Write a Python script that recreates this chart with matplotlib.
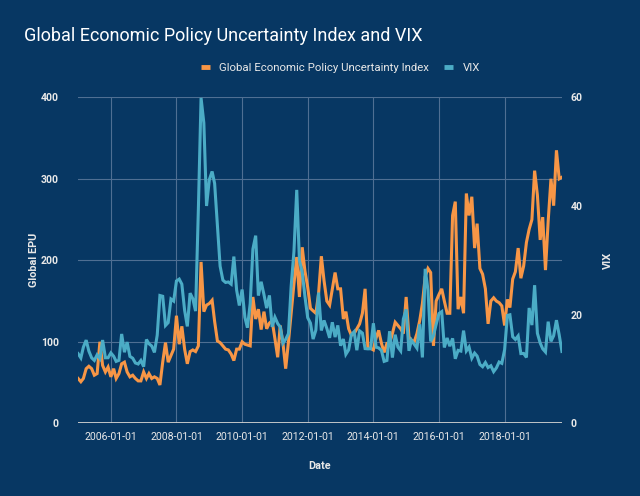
import matplotlib
matplotlib.use("Agg")
import matplotlib.pyplot as plt
import matplotlib.dates as mdates
import pandas as pd

# monthly data, Jan 2005 - Oct 2019
dates = pd.date_range("2005-01-01", periods=178, freq="MS")

epu = [55, 51, 55, 67, 70, 67, 59, 61, 100, 71, 63, 69,
       57, 67, 55, 61, 73, 75, 63, 57, 59, 55, 52, 52,
       63, 55, 61, 55, 57, 55, 47, 75, 99, 75, 83, 91,
       132, 97, 119, 91, 73, 88, 90, 88, 95, 198, 137, 145,
       147, 151, 125, 101, 99, 95, 91, 90, 85, 77, 91, 91,
       100, 97, 96, 95, 155, 128, 140, 115, 137, 116, 123, 126,
       104, 81, 120, 98, 67, 100, 135, 171, 204, 155, 216, 187,
       167, 141, 138, 135, 159, 205, 175, 150, 145, 165, 185, 165,
       165, 128, 137, 116, 108, 110, 116, 122, 135, 165, 92, 92,
       90, 105, 114, 98, 87, 98, 98, 110, 124, 120, 116, 110,
       155, 106, 102, 100, 110, 126, 147, 180, 190, 185, 95, 150,
       158, 165, 150, 135, 135, 255, 272, 140, 155, 135, 282, 255,
       278, 215, 245, 190, 183, 165, 122, 150, 154, 150, 148, 144,
       120, 152, 142, 177, 186, 215, 178, 193, 222, 238, 250, 310,
       280, 225, 253, 188, 248, 300, 267, 335, 300, 302]

vix = [12.82, 12.03, 14.02, 15.31, 13.29, 12.04, 11.57, 12.60, 11.92, 15.32, 12.06, 12.07,
       12.95, 12.34, 11.39, 11.59, 16.44, 13.08, 14.95, 12.31, 11.98, 11.10, 10.91, 11.56,
       10.42, 15.42, 14.64, 14.22, 13.05, 16.23, 23.52, 23.38, 18.00, 18.53, 22.87, 22.50,
       26.20, 26.54, 25.61, 20.79, 17.83, 23.95, 22.94, 20.65, 39.39, 59.89, 55.28, 40.00,
       44.84, 46.35, 44.14, 36.50, 28.92, 26.35, 25.92, 26.01, 25.61, 30.69, 24.51, 21.68,
       24.62, 19.50, 17.59, 22.05, 32.07, 34.54, 23.50, 26.05, 23.70, 21.20, 23.54, 17.75,
       19.53, 18.35, 17.74, 14.75, 15.45, 16.52, 25.25, 31.62, 42.96, 29.96, 27.80, 23.40,
       19.44, 18.43, 15.50, 17.15, 24.06, 17.08, 18.93, 17.47, 15.73, 18.60, 15.87, 18.02,
       14.28, 15.51, 12.70, 13.52, 16.30, 16.86, 13.45, 17.01, 16.60, 13.75, 13.70, 13.72,
       18.41, 14.00, 13.88, 13.41, 11.40, 11.57, 16.95, 12.09, 16.31, 14.03, 13.33, 19.20,
       20.97, 13.34, 15.29, 14.55, 13.84, 18.23, 12.12, 28.43, 24.50, 15.07, 16.13, 18.21,
       20.20, 20.55, 13.95, 15.70, 14.19, 15.63, 11.87, 13.42, 13.29, 17.06, 13.33, 14.04,
       11.99, 12.92, 12.37, 10.82, 10.41, 11.18, 10.26, 10.59, 9.51, 10.18, 11.28, 11.04,
       13.54, 19.85, 19.97, 15.93, 15.43, 16.09, 12.83, 12.86, 12.12, 21.23, 18.07, 25.42,
       16.57, 14.78, 13.71, 13.12, 18.71, 15.08, 16.12, 18.98, 16.24, 13.22]

tick_dates = pd.to_datetime(["2006-01-01", "2008-01-01", "2010-01-01", "2012-01-01",
                             "2014-01-01", "2016-01-01", "2018-01-01"])

bg = "#073763"
orange = "#f79646"
teal = "#4bacc6"
txt = "#e8e8e8"

plt.rcParams["font.family"] = ["Roboto", "DejaVu Sans"]

fig = plt.figure(figsize=(6.4, 4.96), dpi=100, facecolor=bg)
ax = fig.add_axes([0.122, 0.1466, 0.756, 0.6572])
ax.set_facecolor(bg)
ax2 = ax.twinx()
ax2.patch.set_visible(False)

l1, = ax.plot(dates, epu, color=orange, lw=2.2, solid_joinstyle="miter",
              label="Global Economic Policy Uncertainty Index")
l2, = ax2.plot(dates, vix, color=teal, lw=2.2, solid_joinstyle="miter", label="VIX")

ax.set_xlim(dates[0], dates[-1])
ax.set_ylim(0, 400)
ax2.set_ylim(0, 60)
ax.set_yticks([0, 100, 200, 300, 400])
ax2.set_yticks([0, 20, 40, 60])
ax.set_xticks(tick_dates)
ax.xaxis.set_major_formatter(mdates.DateFormatter("%Y-%m-%d"))

ax.grid(True, color="#4f6f93", lw=0.8)
ax.set_axisbelow(True)
ax.axhline(0, color="#d0d0d0", lw=1.3, zorder=3)

for a in (ax, ax2):
    for s in a.spines.values():
        s.set_visible(False)
    a.tick_params(length=0, colors=txt)

ax.tick_params(axis="x", labelsize=7.6, pad=6)
for lab in ax.get_yticklabels() + ax2.get_yticklabels():
    lab.set_fontsize(7.6)
    lab.set_fontweight("bold")
ax.tick_params(axis="y", pad=14)
ax2.tick_params(axis="y", pad=6)

ax.set_xlabel("Date", color=txt, fontsize=7.8, fontweight="bold", labelpad=14)
ax.set_ylabel("Global EPU", color=txt, fontsize=7.8, fontweight="bold", labelpad=1)
ax2.set_ylabel("VIX", color=txt, fontsize=7.8, fontweight="bold", labelpad=15)

fig.text(0.0375, 0.927, "Global Economic Policy Uncertainty Index and VIX",
         color="white", fontsize=13, va="center", ha="left")

leg = fig.legend(handles=[l1, l2], loc="center", bbox_to_anchor=(0.532, 0.863), ncol=2,
                 frameon=False, fontsize=8.2, handlelength=0.8, handletextpad=0.8,
                 columnspacing=1.3)
for h in leg.legend_handles:
    h.set_linewidth(3.5)
    h.set_solid_capstyle("butt")
for t in leg.get_texts():
    t.set_color(txt)

fig.savefig("out.png", dpi=100, facecolor=bg)
